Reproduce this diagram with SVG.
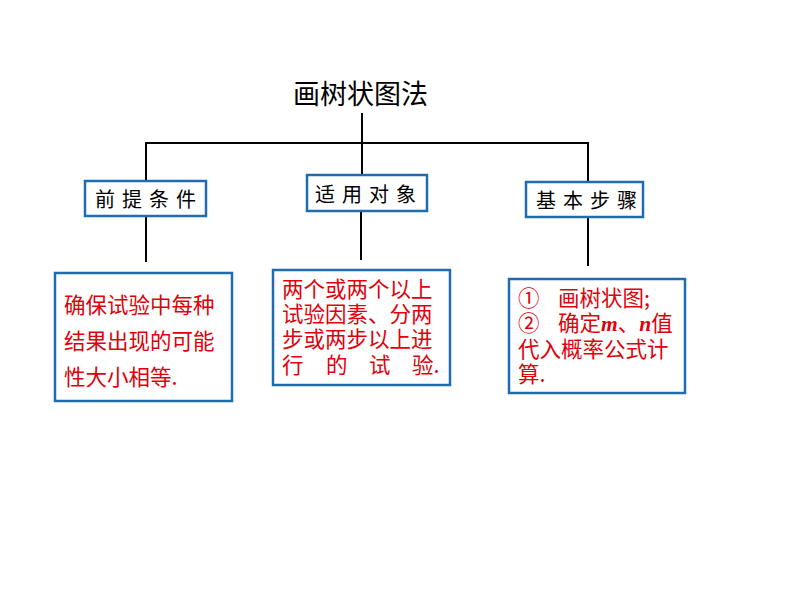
<svg xmlns="http://www.w3.org/2000/svg" width="794" height="596" viewBox="0 0 794 596">
<style>
.t{font-family:"Noto Sans CJK SC","Liberation Sans",sans-serif;}
.hdr{font-size:20px;fill:#000;letter-spacing:7px;}
.box{fill:#fff;stroke:#1f6cb0;stroke-width:2.5;}
.red{font-size:21.5px;fill:#e0000a;}
.ln{stroke:#000;stroke-width:2;fill:none;}
.mi{font-family:"Liberation Serif",serif;font-style:italic;font-weight:bold;}
</style>
<rect width="794" height="596" fill="#fff"/>
<g id="connectors">
<path class="ln" d="M362,113 V175 M146,182 V143 H588 V182"/>
<path class="ln" d="M146,216 V262 M361,211 V260 M588,217 V266"/>
</g>
<g id="title"><text class="t" x="293" y="104" font-size="27" fill="#000">画树状图法</text></g>
<g id="n1"><rect class="box" x="85" y="181" width="121" height="35"/><text class="t hdr" x="95" y="207">前提条件</text></g>
<g id="n2"><rect class="box" x="307" y="175" width="120" height="36"/><text class="t hdr" x="315" y="202">适用对象</text></g>
<g id="n3"><rect class="box" x="526" y="182" width="117" height="35"/><text class="t hdr" x="536" y="208">基本步骤</text></g>
<g id="n4"><rect class="box" x="55" y="273" width="177" height="128"/>
<text class="t red" x="64" y="313">确保试验中每种</text>
<text class="t red" x="64" y="349">结果出现的可能</text>
<text class="t red" x="64" y="385">性大小相等.</text></g>
<g id="n5"><rect class="box" x="273" y="270" width="177" height="115"/>
<text class="t red" x="282" y="297" font-size="22.5">两个或两个以上</text>
<text class="t red" x="282" y="322" font-size="22.5">试验因素、分两</text>
<text class="t red" x="282" y="347" font-size="22.5">步或两步以上进</text>
<text class="t red" x="282" y="373" font-size="22.5">行</text>
<text class="t red" x="326" y="373" font-size="22.5">的</text>
<text class="t red" x="369" y="373" font-size="22.5">试</text>
<text class="t red" x="412" y="373" font-size="22.5">验.</text></g>
<g id="n6"><rect class="box" x="509" y="279" width="176" height="114"/>
<text class="t red" x="518" y="306" font-size="22">①</text>
<text class="t red" x="558" y="306" font-size="22">画树状图;</text>
<text class="t red" x="518" y="331" font-size="22">②</text>
<text class="t red" x="558" y="331" font-size="22">确定<tspan class="mi">m</tspan>、<tspan class="mi">n</tspan>值</text>
<text class="t red" x="518" y="357" font-size="22">代入概率公式计</text>
<text class="t red" x="518" y="382" font-size="22">算.</text></g>
</svg>
